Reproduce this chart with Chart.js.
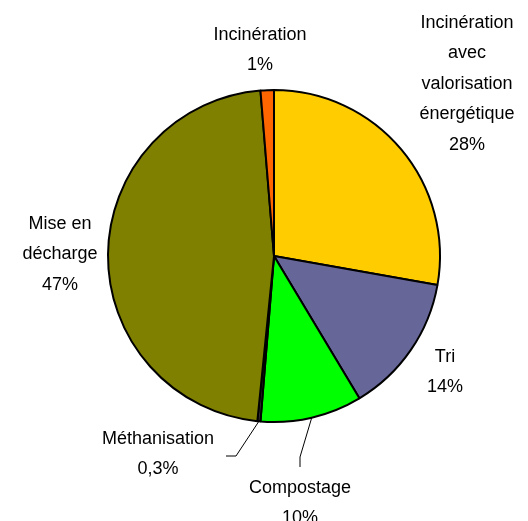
<!DOCTYPE html>
<html>
<head>
<meta charset="utf-8">
<script src="https://cdn.jsdelivr.net/npm/chart.js@4"></script>
<style>
  html, body { margin: 0; padding: 0; background: #fff; }
  #wrap { width: 528px; height: 521px; }
</style>
</head>
<body>
<div id="wrap"><canvas id="graf" width="528" height="521"></canvas></div>
<script>
const categories = ['Incinération avec valorisation énergétique', 'Tri', 'Compostage', 'Méthanisation', 'Mise en décharge', 'Incinération'];
const valeurs = [27.8, 13.6, 9.9, 0.3, 47.1, 1.3];
const etiquettes = ['28%', '14%', '10%', '0,3%', '47%', '1%'];
const couleurs = ['#FFCC00', '#666699', '#00FF00', '#333333', '#808000', '#FF6600'];

// position des étiquettes (centre du texte) et lignes de texte
const libelles = [
  { x: 467, y: 23, lignes: ['Incinération', 'avec', 'valorisation', 'énergétique'] },
  { x: 445, y: 357, lignes: ['Tri'] },
  { x: 300, y: 488, lignes: ['Compostage'], guide: [[300, 457], [300, 467]] },
  { x: 158, y: 439, lignes: ['Méthanisation'], guide: [[236, 456], [226, 456]] },
  { x: 60, y: 224, lignes: ['Mise en', 'décharge'] },
  { x: 260, y: 35, lignes: ['Incinération'] }
];

const pluginEtiquettes = {
  id: 'etiquettes',
  afterDraw(chart) {
    const ctx = chart.ctx;
    const arcs = chart.getDatasetMeta(0).data;
    ctx.save();
    ctx.fillStyle = '#000';
    ctx.font = '18px "Liberation Sans", Arial, sans-serif';
    ctx.textAlign = 'center';
    ctx.textBaseline = 'middle';
    libelles.forEach((lib, i) => {
      const lignes = lib.lignes.concat([etiquettes[i]]);
      lignes.forEach((t, k) => ctx.fillText(t, lib.x, lib.y + k * 30.5));
      if (lib.guide) {
        const a = arcs[i];
        const mid = (a.startAngle + a.endAngle) / 2;
        ctx.strokeStyle = '#000';
        ctx.lineWidth = 1;
        ctx.beginPath();
        ctx.moveTo(a.x + Math.cos(mid) * a.outerRadius, a.y + Math.sin(mid) * a.outerRadius);
        lib.guide.forEach(p => ctx.lineTo(p[0], p[1]));
        ctx.stroke();
      }
    });
    ctx.restore();
  }
};

new Chart(document.getElementById('graf'), {
  type: 'pie',
  data: {
    labels: categories,
    datasets: [{
      data: valeurs,
      backgroundColor: couleurs,
      borderColor: '#000',
      borderWidth: 2
    }]
  },
  options: {
    responsive: false,
    animation: false,
    layout: { padding: { left: 107, right: 87, top: 89, bottom: 98 } },
    plugins: { legend: { display: false }, tooltip: { enabled: false } }
  },
  plugins: [pluginEtiquettes]
});
</script>
</body>
</html>
